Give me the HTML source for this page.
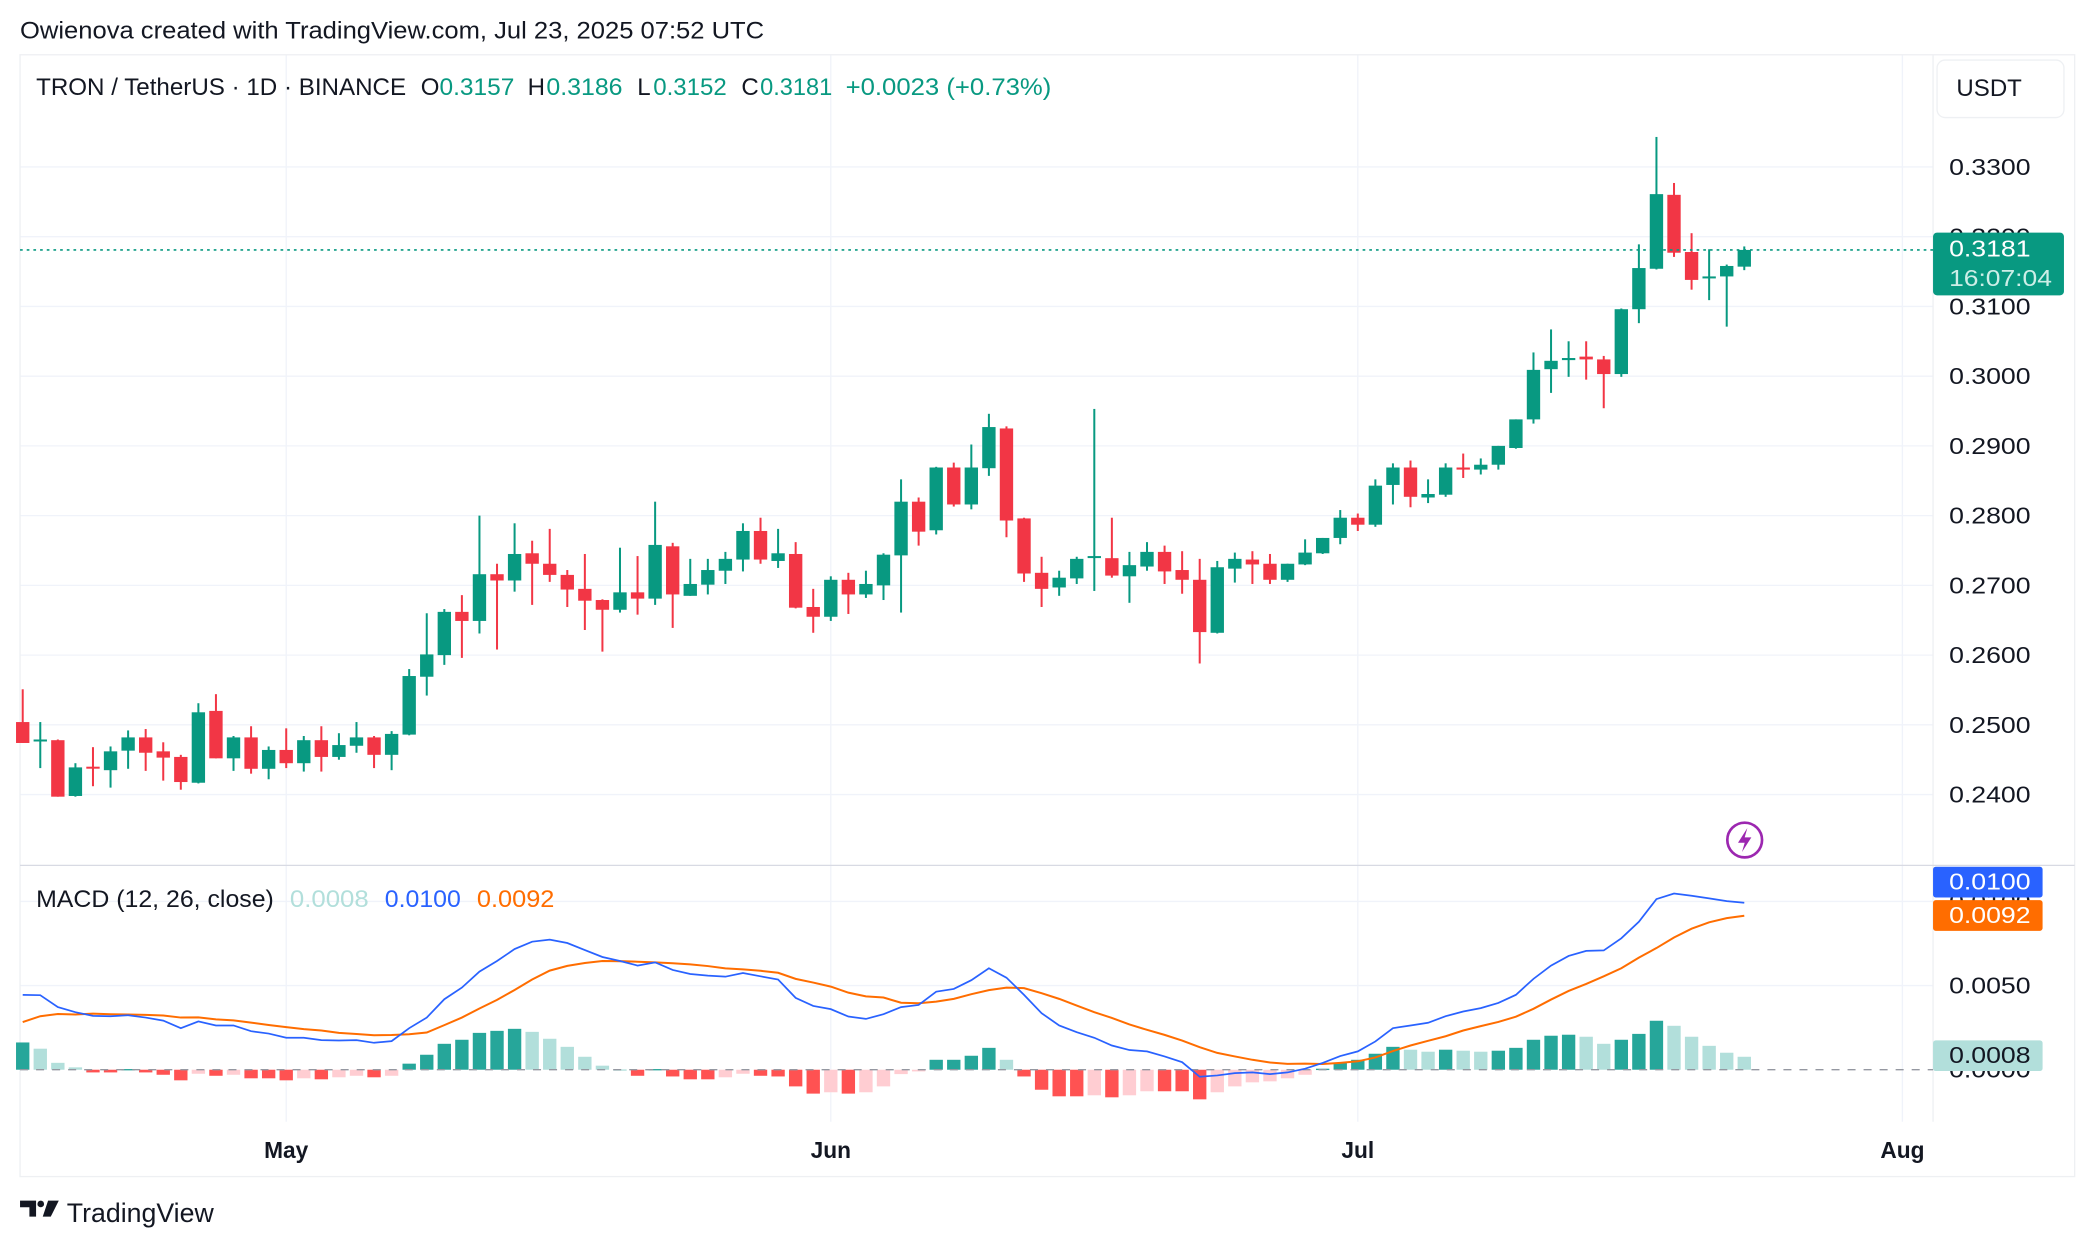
<!DOCTYPE html>
<html><head><meta charset="utf-8"><title>TRON / TetherUS chart</title>
<style>
html,body{margin:0;padding:0;background:#fff;}
svg{display:block;}
text{font-family:"Liberation Sans",Arial,sans-serif;}
</style></head>
<body>
<svg id="chart" xmlns="http://www.w3.org/2000/svg" width="2084" height="1242" viewBox="0 0 1560 930" preserveAspectRatio="none">
  <rect x="0" y="0" width="1560" height="930" fill="#ffffff"/>
  <text x="15" y="29" font-size="18" fill="#131722" textLength="557" lengthAdjust="spacingAndGlyphs">Owienova created with TradingView.com, Jul 23, 2025 07:52 UTC</text>
  <g id="grid"></g>
  <g id="frame">
    <rect x="15" y="41" width="1538" height="840" fill="none" stroke="#eef0f3" stroke-width="1"/>
    <line x1="1447" y1="41" x2="1447" y2="840" stroke="#eef0f3" stroke-width="1"/>
    <line x1="15" y1="648" x2="1553" y2="648" stroke="#d8dae3" stroke-width="1"/>
  </g>
  <g id="hist"></g>
  <line x1="15" y1="801" x2="1447" y2="801" stroke="#9598a1" stroke-width="1" stroke-dasharray="6,6"/>
  <g id="macdlines"></g>
  <g id="candles"></g>
  <line id="lastline" x1="15" x2="1447" stroke="#089981" stroke-width="1.2" stroke-dasharray="2,3"/>
  <g id="axes"></g>

  <g font-size="18">
    <text x="27" y="71" fill="#131722" textLength="277" lengthAdjust="spacingAndGlyphs">TRON / TetherUS · 1D · BINANCE</text>
    <text x="315" y="71" fill="#131722">O</text>
    <text x="329" y="71" fill="#089981" textLength="56" lengthAdjust="spacingAndGlyphs">0.3157</text>
    <text x="395" y="71" fill="#131722">H</text>
    <text x="409" y="71" fill="#089981" textLength="57" lengthAdjust="spacingAndGlyphs">0.3186</text>
    <text x="477" y="71" fill="#131722">L</text>
    <text x="489" y="71" fill="#089981" textLength="55" lengthAdjust="spacingAndGlyphs">0.3152</text>
    <text x="555" y="71" fill="#131722">C</text>
    <text x="569" y="71" fill="#089981" textLength="54" lengthAdjust="spacingAndGlyphs">0.3181</text>
    <text x="633" y="71" fill="#089981" textLength="154" lengthAdjust="spacingAndGlyphs">+0.0023 (+0.73%)</text>
  </g>
  <g font-size="18">
    <text x="27" y="679" fill="#131722" textLength="178" lengthAdjust="spacingAndGlyphs">MACD (12, 26, close)</text>
    <text x="217" y="679" fill="#b2dfdb" textLength="59" lengthAdjust="spacingAndGlyphs">0.0008</text>
    <text x="288" y="679" fill="#2962ff" textLength="57" lengthAdjust="spacingAndGlyphs">0.0100</text>
    <text x="357" y="679" fill="#ff6d00" textLength="58" lengthAdjust="spacingAndGlyphs">0.0092</text>
  </g>

  <g>
    <rect x="1450" y="45" width="95" height="43" rx="6" fill="#fff" stroke="#eef0f3"/>
    <text x="1489" y="72" font-size="18" fill="#131722" text-anchor="middle">USDT</text>
  </g>

  <g>
    <circle cx="1306" cy="629" r="13" fill="#fff" stroke="#9c27b0" stroke-width="2"/>
    <path d="M1308 620 L1301 631 L1306 631 L1304 638 L1311 627 L1306 627 Z" fill="#9c27b0"/>
  </g>

  <g>
    <path d="M15 899 H27 V911 H22 V904 H15 Z" fill="#131722"/>
    <circle cx="30.5" cy="901.5" r="2.5" fill="#131722"/>
    <path d="M36 899 H44 L38 911 H32 Z" fill="#131722"/>
    <text x="50" y="915" font-size="20" fill="#131722">TradingView</text>
  </g>
</svg>
<script>
// ---- data ----
const openP  = [.2504,.2478,.2478,.2398,.2440,.2435,.2463,.2482,.2462,.2454,.2417,.2520,.2452,.2482,.2437,.2464,.2445,.2478,.2454,.2470,.2482,.2457,.2486,.2569,.2600,.2662,.2649,.2716,.2707,.2746,.2731,.2715,.2695,.2679,.2665,.2690,.2681,.2756,.2685,.2701,.2721,.2737,.2778,.2735,.2745,.2669,.2655,.2708,.2687,.2700,.2743,.2820,.2779,.2869,.2816,.2868,.2925,.2796,.2718,.2697,.2710,.2740,.2739,.2713,.2727,.2748,.2722,.2708,.2632,.2724,.2737,.2731,.2708,.2730,.2746,.2768,.2797,.2787,.2844,.2869,.2826,.2830,.2869,.2866,.2873,.2897,.2938,.3010,.3023,.3028,.3024,.3003,.3096,.3154,.3260,.3178,.3141,.3143,.3157];
const highP  = [.2551,.2504,.2479,.2445,.2468,.2469,.2492,.2494,.2475,.2457,.2531,.2544,.2484,.2498,.2469,.2495,.2484,.2498,.2488,.2504,.2484,.2491,.2580,.2660,.2666,.2686,.2800,.2731,.2789,.2764,.2781,.2722,.2745,.2680,.2754,.2742,.2820,.2761,.2738,.2738,.2748,.2789,.2797,.2781,.2762,.2695,.2713,.2718,.2721,.2746,.2852,.2826,.2870,.2876,.2902,.2946,.2928,.2797,.2741,.2721,.2741,.2953,.2797,.2748,.2762,.2757,.2749,.2738,.2735,.2747,.2749,.2745,.2731,.2766,.2768,.2808,.2803,.2852,.2875,.2879,.2852,.2875,.2889,.2882,.2900,.2938,.3034,.3067,.3050,.3050,.3029,.3097,.3189,.3343,.3277,.3205,.3182,.3160,.3186];
const lowP   = [.2474,.2438,.2397,.2397,.2412,.2410,.2437,.2434,.2420,.2407,.2416,.2452,.2434,.2430,.2422,.2438,.2433,.2433,.2450,.2460,.2438,.2435,.2485,.2542,.2586,.2596,.2631,.2608,.2691,.2672,.2705,.2669,.2636,.2605,.2661,.2658,.2672,.2639,.2685,.2687,.2702,.2720,.2731,.2725,.2667,.2632,.2649,.2659,.2682,.2679,.2661,.2757,.2773,.2813,.2809,.2857,.2769,.2705,.2669,.2685,.2702,.2692,.2711,.2675,.2721,.2702,.2688,.2588,.2631,.2704,.2702,.2702,.2705,.2729,.2745,.2759,.2778,.2784,.2816,.2812,.2818,.2827,.2854,.2859,.2866,.2896,.2932,.2976,.2999,.2995,.2954,.2999,.3076,.3153,.3171,.3124,.3109,.3071,.3152];
const closeP = [.2474,.2479,.2397,.2439,.2439,.2462,.2482,.2460,.2453,.2418,.2518,.2452,.2482,.2437,.2464,.2445,.2478,.2454,.2471,.2482,.2457,.2487,.2570,.2601,.2662,.2649,.2716,.2707,.2745,.2731,.2715,.2694,.2678,.2665,.2690,.2681,.2758,.2687,.2702,.2722,.2738,.2778,.2737,.2746,.2668,.2655,.2708,.2687,.2702,.2744,.2820,.2777,.2869,.2816,.2869,.2927,.2793,.2717,.2695,.2711,.2738,.2742,.2714,.2729,.2748,.2720,.2708,.2633,.2726,.2738,.2730,.2708,.2731,.2747,.2768,.2797,.2787,.2843,.2869,.2827,.2831,.2869,.2866,.2873,.2900,.2938,.3009,.3022,.3026,.3024,.3003,.3096,.3155,.3261,.3177,.3138,.3143,.3158,.3181];
// MACD values in thousandths (x0.001)
const macdLine = [4.45,4.43,3.72,3.42,3.20,3.18,3.24,3.10,2.92,2.47,2.87,2.63,2.63,2.29,2.15,1.90,1.90,1.76,1.74,1.76,1.60,1.70,2.47,3.10,4.19,4.88,5.83,6.46,7.17,7.61,7.73,7.53,7.11,6.70,6.46,6.19,6.38,5.93,5.69,5.59,5.53,5.75,5.55,5.36,4.27,3.79,3.60,3.16,3.02,3.30,3.72,3.85,4.64,4.80,5.32,6.03,5.47,4.45,3.36,2.63,2.23,1.90,1.44,1.17,1.09,0.79,0.45,-0.42,-0.34,-0.20,-0.16,-0.26,-0.16,0.06,0.40,0.81,1.09,1.68,2.47,2.63,2.79,3.18,3.46,3.66,3.97,4.45,5.40,6.19,6.76,7.06,7.09,7.81,8.79,10.14,10.47,10.34,10.18,10.02,9.92];
const signalLine = [2.83,3.18,3.31,3.28,3.33,3.30,3.28,3.26,3.22,3.10,3.11,2.99,2.93,2.80,2.66,2.53,2.41,2.33,2.19,2.12,2.05,2.06,2.11,2.21,2.65,3.10,3.64,4.15,4.74,5.36,5.89,6.17,6.34,6.46,6.45,6.42,6.38,6.33,6.26,6.16,6.02,5.96,5.88,5.76,5.40,5.18,4.94,4.58,4.36,4.29,3.98,3.95,4.05,4.21,4.49,4.73,4.88,4.85,4.55,4.21,3.81,3.42,3.08,2.69,2.37,2.07,1.73,1.34,1.00,0.79,0.59,0.43,0.35,0.36,0.34,0.41,0.50,0.73,1.11,1.44,1.72,1.99,2.33,2.59,2.84,3.15,3.62,4.17,4.68,5.10,5.55,6.03,6.66,7.23,7.86,8.38,8.76,9.01,9.15];
const histVals = [1.62,1.25,0.41,0.14,-0.16,-0.16,0.04,-0.16,-0.30,-0.63,-0.24,-0.36,-0.30,-0.51,-0.51,-0.63,-0.51,-0.57,-0.45,-0.36,-0.45,-0.36,0.36,0.89,1.54,1.78,2.19,2.31,2.43,2.25,1.84,1.36,0.77,0.24,0.02,-0.36,0.04,-0.40,-0.57,-0.57,-0.45,-0.24,-0.36,-0.40,-0.99,-1.42,-1.34,-1.42,-1.34,-0.99,-0.26,-0.10,0.59,0.59,0.83,1.30,0.59,-0.40,-1.19,-1.58,-1.58,-1.52,-1.64,-1.52,-1.28,-1.28,-1.28,-1.76,-1.34,-0.99,-0.75,-0.69,-0.51,-0.30,0.06,0.40,0.59,0.95,1.36,1.19,1.07,1.19,1.13,1.07,1.13,1.30,1.78,2.02,2.08,1.96,1.54,1.78,2.13,2.91,2.61,1.96,1.42,1.01,0.77];
const priceTicks = [0.24,0.25,0.26,0.27,0.28,0.29,0.30,0.31,0.32,0.33];
const priceTickLabels = ["0.2400","0.2500","0.2600","0.2700","0.2800","0.2900","0.3000","0.3100","0.3200","0.3300"];
const macdTicks = [0,5,10];
const macdTickLabels = ["0.0000","0.0050","0.0100"];
const monthDayIndex = [15,46,76,107];  // days after Apr 16
const monthLabels = ["May","Jun","Jul","Aug"];

// ---- scales ----
const NS = "http://www.w3.org/2000/svg";
const xOf = i => 17 + 13.15 * i;
const yP = p => 125 + (0.33 - p) * 5222;
const yM = m => 801 - m * 12.6;
function mk(tag, attrs, parent){const e=document.createElementNS(NS,tag);for(const k in attrs)e.setAttribute(k,attrs[k]);parent.appendChild(e);return e;}

const grid=document.getElementById('grid');
priceTicks.forEach((p,i)=>{
  const l=mk('line',{x1:15,x2:1447,y1:yP(p),y2:yP(p),stroke:'#f0f3fa','stroke-width':1},grid);
  
  
});
macdTicks.forEach(m=>{
  if(m===0)return;
  const l=mk('line',{x1:15,x2:1447,y1:yM(m),y2:yM(m),stroke:'#f0f3fa','stroke-width':1},grid);
  
  
});
monthDayIndex.forEach(d=>{
  const l=mk('line',{x1:xOf(d),x2:xOf(d),y1:41,y2:840,stroke:'#f0f3fa','stroke-width':1},grid);
  
  
});

// histogram
const hg=document.getElementById('hist');
histVals.forEach((v,i)=>{
  const prev=i>0?histVals[i-1]:v;
  let col;
  if(v>=0) col = v>=prev ? '#26a69a' : '#b2dfdb';
  else col = v<=prev ? '#ff5252' : '#ffcdd2';
  const y0=yM(0), y1=yM(v);
  const r=mk('rect',{x:xOf(i)-5,y:Math.min(y0,y1),width:10,height:Math.max(1,Math.abs(y1-y0)),fill:col},hg);
  
  
});

// macd lines
const lg=document.getElementById('macdlines');
const sigPath=mk('path',{d:signalLine.map((v,i)=>(i?'L':'M')+xOf(i).toFixed(2)+' '+yM(v).toFixed(2)).join(' '),fill:'none',stroke:'#ff6d00','stroke-width':1.5},lg);


const macdPath=mk('path',{d:macdLine.map((v,i)=>(i?'L':'M')+xOf(i).toFixed(2)+' '+yM(v).toFixed(2)).join(' '),fill:'none',stroke:'#2962ff','stroke-width':1.3},lg);



// candles
const cg=document.getElementById('candles');
closeP.forEach((c,i)=>{
  const o=openP[i],h=highP[i],l=lowP[i];
  const col=c>=o?'#089981':'#f23645';
  const x=xOf(i);
  const w=mk('rect',{x:x-0.75,y:yP(h),width:1.5,height:Math.max(0.5,yP(l)-yP(h)),fill:col},cg);
  
  
  const top=yP(Math.max(o,c)),bot=yP(Math.min(o,c));
  const b=mk('rect',{x:x-5,y:top,width:10,height:Math.max(1.5,bot-top),fill:col},cg);
  
  
});

// last price line
const lastClose=closeP[closeP.length-1];
const ll=document.getElementById('lastline');
ll.setAttribute('y1',yP(lastClose));ll.setAttribute('y2',yP(lastClose));

// axes labels
const ax=document.getElementById('axes');
priceTicks.forEach((p,i)=>{
  const t=mk('text',{x:1459,y:yP(p)+6,'font-size':17,fill:'#131722',textLength:61,lengthAdjust:'spacingAndGlyphs'},ax);
  t.textContent=priceTickLabels[i];
  
  
});
macdTicks.forEach((m,i)=>{
  const t=mk('text',{x:1459,y:yM(m)+6,'font-size':17,fill:'#131722',textLength:61,lengthAdjust:'spacingAndGlyphs'},ax);
  t.textContent=macdTickLabels[i];
  
  
});
monthDayIndex.forEach((d,i)=>{
  const t=mk('text',{x:xOf(d),y:867,'font-size':17,'font-weight':'bold',fill:'#131722','text-anchor':'middle'},ax);
  t.textContent=monthLabels[i];
  
  
});

// price badge
const yc=yP(lastClose);
const pb=mk('rect',{x:1447,y:yc-13,width:98,height:47,rx:3,fill:'#089981'},ax);


const pt=mk('text',{x:1459,y:yc+5,'font-size':17,fill:'#ffffff',textLength:61,lengthAdjust:'spacingAndGlyphs'},ax);
pt.textContent=lastClose.toFixed(4);


const ct=mk('text',{x:1459,y:yc+27,'font-size':17,fill:'#cdeee7',textLength:77,lengthAdjust:'spacingAndGlyphs'},ax);
ct.textContent='16:07:04';



// macd badges
function badge(yv,fill,txt,tcol,name){
  const r=mk('rect',{x:1447,y:yv,width:82,height:23,rx:2,fill:fill},ax);
  
  
  const t=mk('text',{x:1459,y:yv+17,'font-size':17,fill:tcol,textLength:61,lengthAdjust:'spacingAndGlyphs'},ax);
  t.textContent=txt;
  
  
}
badge(649,'#2962ff','0.0100','#ffffff','macd-value-badge');
badge(674,'#ff6d00','0.0092','#ffffff','signal-value-badge');
badge(779,'#b2dfdb','0.0008','#131722','histogram-value-badge');
</script>
</body></html>
